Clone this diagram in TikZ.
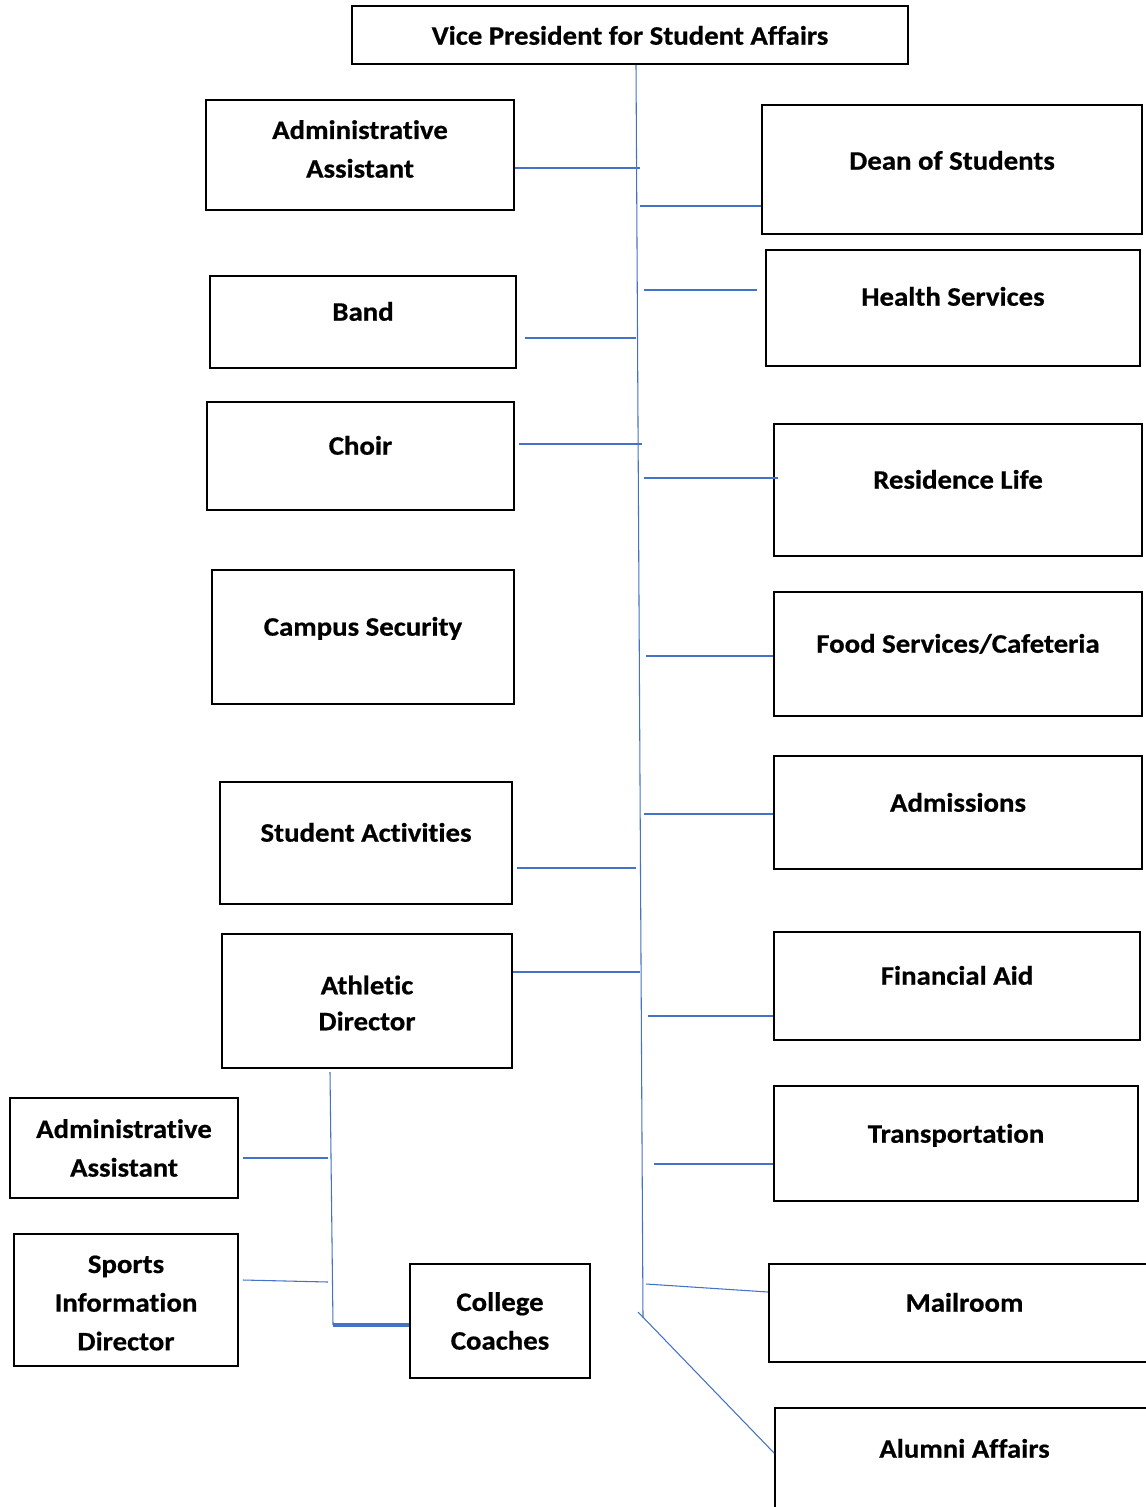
\documentclass[tikz,border=0pt]{standalone}
\usepackage{fontspec}
\setmainfont{Carlito}[Ligatures={NoCommon,NoRequired,NoContextual}, RawFeature={-calt}, BoldFeatures={FakeStretch=1.08, FakeBold=0.6}]
\usetikzlibrary{fit}
\definecolor{linkblue}{RGB}{68,114,196}
\tikzstyle{box}=[draw, line width=1.4pt, inner sep=0pt]
\tikzstyle{txt}=[font=\bfseries\fontsize{20}{29}\selectfont, align=center, inner sep=0pt]
\tikzstyle{one}=[txt, text height=13pt, text depth=0pt]
\tikzstyle{link}=[draw=linkblue, line width=0.8pt]

\begin{document}
\begin{tikzpicture}[x=0.75pt, y=-0.75pt]
	\useasboundingbox (0,0) rectangle (1146,1507);
	\clip (0,0) rectangle (1146,1507);

	% top
	\node[box, fit={(352,6) (908,64)}] (vp) {};
	\node[one] (vp-t) at (vp.center |- 0,36) {Vice President for Student Affairs};

	% left column
	\node[box, fit={(206,100) (514,210)}] (aa) {};
	\node[txt] (aa-t) at (aa.center |- 0,149) {Administrative\\Assistant};
	\node[box, fit={(210,276) (516,368)}] (band) {};
	\node[one] (band-t) at (band.center |- 0,312) {Band};
	\node[box, fit={(207,402) (514,510)}] (choir) {};
	\node[one] (choir-t) at (choir.center |- 0,446) {Choir};
	\node[box, fit={(212,570) (514,704)}] (sec) {};
	\node[one] (sec-t) at (sec.center |- 0,627) {Campus Security};
	\node[box, fit={(220,782) (512,904)}] (act) {};
	\node[one] (act-t) at (act.center |- 0,833) {Student Activities};
	\node[box, fit={(222,934) (512,1068)}] (ad) {};
	\node[txt, font=\bfseries\fontsize{20}{27}\selectfont] (ad-t) at (ad.center |- 0,1003) {Athletic\\Director};

	% athletics
	\node[box, fit={(10,1098) (238,1198)}] (aa2) {};
	\node[txt] (aa2-t) at (aa2.center |- 0,1148) {Administrative\\Assistant};
	\node[box, fit={(14,1234) (238,1366)}] (sid) {};
	\node[txt] (sid-t) at (sid.center |- 0,1303) {Sports\\Information\\Director};
	\node[box, fit={(410,1264) (590,1378)}] (coach) {};
	\node[txt] (coach-t) at (coach.center |- 0,1321) {College\\Coaches};

	% right column
	\node[box, fit={(762,105) (1142,234)}] (dean) {};
	\node[one] (dean-t) at (dean.center |- 0,161) {Dean of Students};
	\node[box, fit={(766,250) (1140,366)}] (health) {};
	\node[one] (health-t) at (health.center |- 0,297) {Health Services};
	\node[box, fit={(774,424) (1142,556)}] (res) {};
	\node[one] (res-t) at (res.center |- 0,480) {Residence Life};
	\node[box, fit={(774,592) (1142,716)}] (food) {};
	\node[one] (food-t) at (food.center |- 0,644) {Food Services/Cafeteria};
	\node[box, fit={(774,756) (1142,869)}] (adm) {};
	\node[one] (adm-t) at (adm.center |- 0,803) {Admissions};
	\node[box, fit={(774,932) (1140,1040)}] (fin) {};
	\node[one] (fin-t) at (fin.center |- 0,976) {Financial Aid};
	\node[box, fit={(774,1086) (1138,1201)}] (trans) {};
	\node[one] (trans-t) at (trans.center |- 0,1134) {Transportation};
	\node[box, fit={(769,1264) (1160,1362)}] (mail) {};
	\node[one] (mail-t) at (mail.center |- 0,1303) {Mailroom};
	\node[box, fit={(775,1408) (1154,1530)}] (alum) {};
	\node[one] (alum-t) at (alum.center |- 0,1449) {Alumni Affairs};

	% trunk
	\coordinate (trunkend) at (643,1318);
	\draw[link] ([xshift=4.5pt]vp.south) -- (trunkend);

	\coordinate (b-aa) at (640,168);
	\coordinate (b-dean) at (640,206);
	\coordinate (b-health) at (644,290);
	\coordinate (b-band) at (636,338);
	\coordinate (b-choir) at (642,444);
	\coordinate (b-res) at (644,478);
	\coordinate (b-food) at (646,656);
	\coordinate (b-adm) at (644,814);
	\coordinate (b-act) at (636,868);
	\coordinate (b-ad) at (640,972);
	\coordinate (b-fin) at (648,1016);
	\coordinate (b-trans) at (654,1164);
	\coordinate (b-mail) at (646,1284);
	\coordinate (b-alum) at (638,1312);

	\draw[link] (aa.east |- b-aa) -- (b-aa);
	\draw[link] (b-dean) -- (dean.west |- b-dean);
	\draw[link] (b-health) -- ([xshift=-6pt]health.west |- b-health);
	\draw[link] ([xshift=6pt]band.east |- b-band) -- (b-band);
	\draw[link] ([xshift=3pt]choir.east |- b-choir) -- (b-choir);
	\draw[link] (b-res) -- ([xshift=4pt]res.west |- b-res);
	\draw[link] (b-food) -- (food.west |- b-food);
	\draw[link] (b-adm) -- (adm.west |- b-adm);
	\draw[link] ([xshift=3pt]act.east |- b-act) -- (b-act);
	\draw[link] (ad.east |- b-ad) -- (b-ad);
	\draw[link] (b-fin) -- (fin.west |- b-fin);
	\draw[link] (b-trans) -- (trans.west |- b-trans);
	\draw[link] (b-mail) -- (mail.west |- 0,1292);
	\draw[link] (b-alum) -- (alum.west |- 0,1453);

	% athletic director branch
	\coordinate (s-top) at (330,1072);
	\coordinate (s-bot) at (333,1325);
	\coordinate (s-aa) at (328,1158);
	\coordinate (s-sid) at (328,1282);
	\draw[link] (s-top) -- (s-bot);
	\draw[link, line width=2.5pt] (s-bot) -- (coach.west |- s-bot);
	\draw[link] ([xshift=3pt]aa2.east |- s-aa) -- (s-aa);
	\draw[link] ([xshift=3pt]sid.east |- 0,1280) -- (s-sid);
\end{tikzpicture}
\end{document}
